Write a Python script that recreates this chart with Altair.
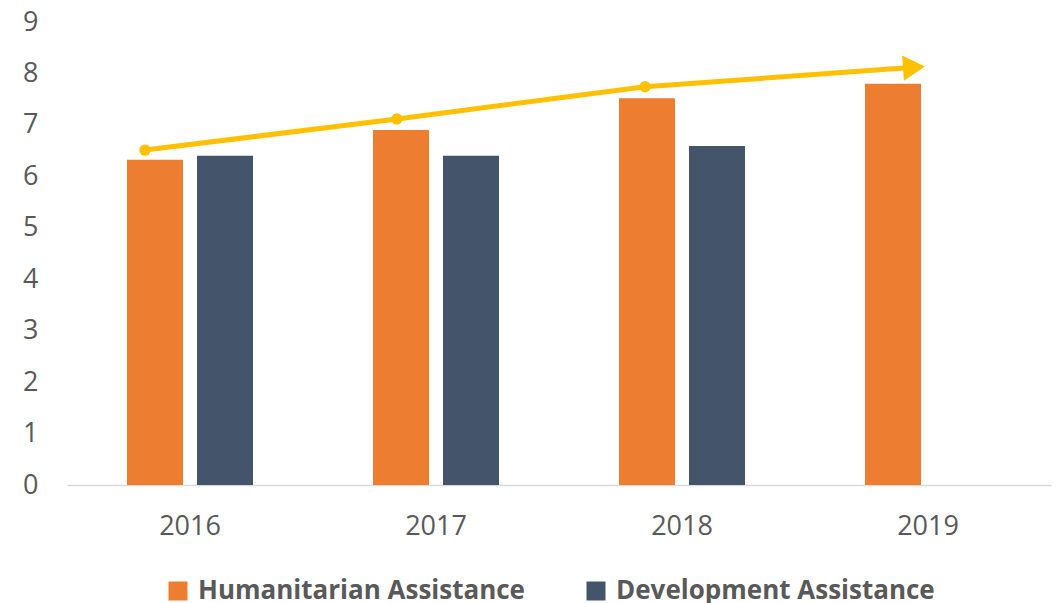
import altair as alt
import pandas as pd

years = ["2016", "2017", "2018", "2019"]
humanitarian = [6.32, 6.90, 7.52, 7.80]
development = [6.40, 6.40, 6.59, None]
series = ["Humanitarian Assistance", "Development Assistance"]
colors = ["#ED7D31", "#44546A"]

# trend arrow (x in year units, y in chart units)
trend_x = [2015.817, 2016.841, 2017.850, 2018.943]
trend_y = [6.51, 7.115, 7.74, 8.12]

rows = []
for yr, h, d in zip(years, humanitarian, development):
    rows.append({"year": yr, "series": series[0], "value": h})
    if d is not None:
        rows.append({"year": yr, "series": series[1], "value": d})
df = pd.DataFrame(rows)

tdf = pd.DataFrame({"tx": trend_x, "value": trend_y, "kind": ["pt", "pt", "pt", "tip"]})

FONT = "Open Sans"
TXT = "#595959"
yscale = alt.Scale(domain=[0, 9], nice=False, zero=True)
yaxis = alt.Axis(title=None, values=list(range(10)), domain=False, ticks=False,
                 tickSize=0, grid=False, labelFont=FONT, labelFontSize=27,
                 labelColor=TXT, labelPadding=29)

bars = alt.Chart(df).mark_bar().encode(
    x=alt.X("year:N", sort=years,
            scale=alt.Scale(paddingInner=0, paddingOuter=0),
            axis=alt.Axis(title=None, labelAngle=0, ticks=False, tickSize=0,
                          domainColor="#D9D9D9", domainWidth=1.5,
                          labelFont=FONT, labelFontSize=27, labelColor=TXT,
                          labelPadding=28)),
    xOffset=alt.XOffset("series:N", sort=series,
                        scale=alt.Scale(domain=series, paddingInner=0.2, paddingOuter=0.857)),
    y=alt.Y("value:Q", scale=yscale, axis=yaxis),
    color=alt.Color("series:N", sort=series,
                    scale=alt.Scale(domain=series, range=colors),
                    legend=alt.Legend(title=None, orient="none", direction="horizontal",
                                      legendX=98, legendY=556, padding=0,
                                      symbolType="square", symbolSize=361,
                                      symbolStrokeWidth=0, labelFont=FONT,
                                      labelFontSize=26, labelFontWeight="bold",
                                      labelColor=TXT, labelOffset=7, columnPadding=58,
                                      labelLimit=500)),
)

tx = alt.X("tx:Q", scale=alt.Scale(domain=[2015.5, 2019.5], nice=False, zero=False), axis=None)
ty = alt.Y("value:Q", scale=yscale, axis=yaxis)

line = alt.Chart(tdf).mark_line(color="#FFC000", strokeWidth=5).encode(
    x=tx, y=ty, order="tx:Q")
pts = alt.Chart(tdf).transform_filter(alt.datum.kind == "pt").mark_circle(
    color="#FFC000", size=130, opacity=1).encode(x=tx, y=ty)
tip = alt.Chart(tdf).transform_filter(alt.datum.kind == "tip").mark_point(
    shape="triangle-right", filled=True, color="#FFC000", size=640, angle=356,
    opacity=1, strokeWidth=0).encode(x=tx, y=ty)

chart = alt.layer(bars, line, pts, tip).resolve_scale(x="independent").properties(
    width=984, height=463,
    background="white",
    autosize=alt.AutoSizeParams(type="none"),
    padding={"left": 59, "top": 14, "right": 2, "bottom": 120},
).configure_view(stroke=None, strokeWidth=0)

chart.save("out.html", embed_options={"renderer": "svg", "actions": False})
